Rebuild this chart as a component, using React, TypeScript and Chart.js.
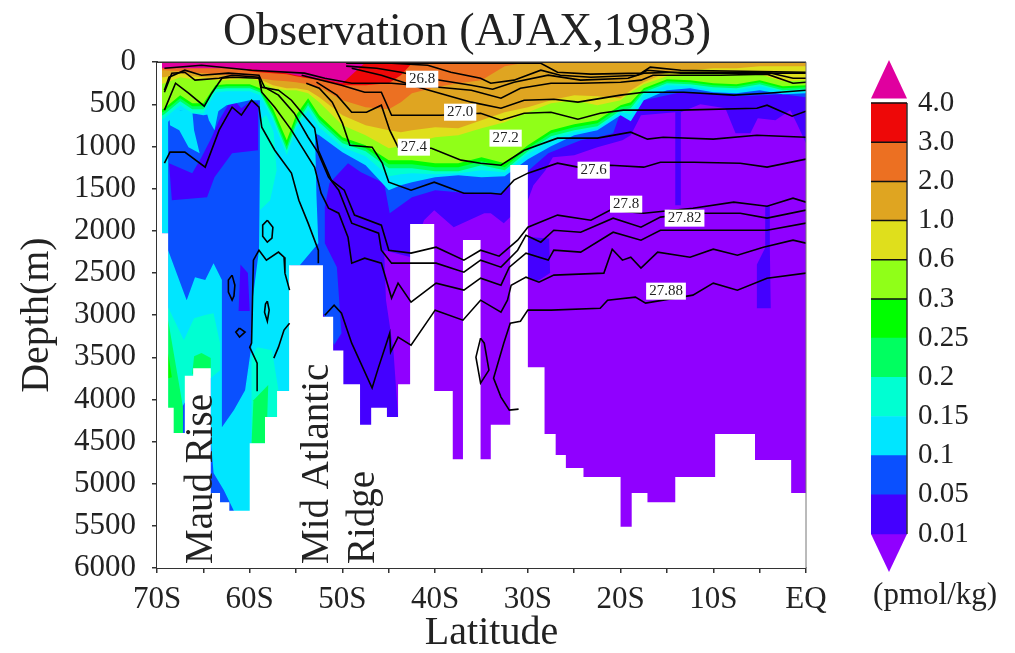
import React, { useEffect, useRef } from "react";
import { Chart, registerables } from "chart.js";
Chart.register(...registerables);

const serif = "'Liberation Serif', 'Times New Roman', serif";
const ink = "#222222";

const titleText = "Observation (AJAX,1983)";
const xTickValues = [-70, -65, -60, -55, -50, -45, -40, -35, -30, -25, -20, -15, -10, -5, 0];
const xTickLabels = ["70S", "", "60S", "", "50S", "", "40S", "", "30S", "", "20S", "", "10S", "", "EQ"];

const colMagenta = "#e0009f";
const colRed = "#ee0808";
const colOrange = "#ec7022";
const colGolden = "#dfa521";
const colYellow = "#dfdf1c";
const colLime = "#90ff18";
const colGreen = "#00ff00";
const colSpring = "#00ff60";
const colTeal = "#00ffd2";
const colCyan = "#00e6ff";
const colBlue = "#0a50ff";
const colIndigo = "#4400ff";
const colViolet = "#9000ff";

// Latitudes shared by the upper-ocean CFC layers
const layerLat = [-70, -69.2, -67.5, -66.2, -65, -63.7, -62.5, -60, -58.9, -57.5, -56, -55, -53.7, -52.5, -50, -47.5, -45, -43.7, -42.5, -40, -37.5, -35, -32.5, -30, -27.5, -25, -22.5, -20, -18.9, -17.5, -15, -12.5, -10, -7.5, -5, -2.5, 0];
// Lower limit (m) of each concentration class
const depthCyan = [747, 747, 569, 605, 629, 605, 510, 451, 451, 806, 1162, 866, 806, 866, 1067, 1222, 1518, 1459, 1423, 1364, 1340, 1364, 1352, 1150, 996, 866, 806, 629, 700, 451, 332, 308, 356, 368, 332, 380, 368];
const depthTeal = [712, 664, 510, 605, 605, 356, 344, 344, 391, 688, 1103, 783, 569, 771, 1008, 1115, 1352, 1328, 1316, 1328, 1316, 1281, 1305, 1091, 925, 830, 783, 593, 617, 391, 273, 285, 332, 332, 285, 344, 332];
const depthSpring = [664, 617, 463, 557, 557, 320, 308, 308, 356, 640, 1044, 735, 510, 712, 961, 1056, 1257, 1257, 1257, 1293, 1293, 1222, 1281, 1056, 878, 806, 759, 569, 546, 356, 249, 261, 297, 308, 261, 332, 320];
const depthGreen = [629, 581, 427, 522, 522, 297, 285, 285, 332, 605, 996, 688, 474, 676, 925, 1020, 1210, 1210, 1210, 1245, 1245, 1174, 1245, 1020, 842, 771, 723, 534, 510, 332, 225, 237, 273, 285, 237, 308, 297];
const depthLime = [593, 546, 391, 486, 486, 273, 261, 261, 308, 546, 925, 629, 427, 629, 890, 984, 1162, 1162, 1162, 1198, 1198, 1127, 1198, 984, 806, 735, 688, 510, 474, 308, 202, 213, 249, 261, 213, 285, 273];
const depthYellow = [273, 249, 178, 202, 202, 213, 213, 190, 225, 308, 332, 332, 368, 474, 747, 866, 1020, 996, 961, 890, 866, 783, 712, 593, 486, 451, 510, 451, 356, 261, 166, 130, 130, 142, 142, 225, 213];
const depthGolden = [178, 178, 130, 166, 178, 190, 190, 178, 202, 273, 308, 308, 332, 415, 629, 747, 806, 830, 806, 771, 783, 688, 593, 534, 451, 391, 403, 427, 332, 237, 119, 95, 71, 71, 47, 47, 47];
const depthOrange = [95, 95, 107, 119, 130, 142, 154, 166, 190, 213, 225, 237, 261, 297, 451, 534, 557, 474, 368, 297, 249, 213, 47, 0, 0, 0, 0, 0, 0, 0, 0, 0, 0, 0, 0, 0, 0];
const depthRed = [0, 0, 0, 0, 0, 0, 0, 107, 119, 130, 142, 166, 190, 213, 273, 273, 249, 154, 12, 0, 0, 0, 0, 0, 0, 0, 0, 0, 0, 0, 0, 0, 0, 0, 0, 0, 0];
const depthMagenta = [71, 71, 71, 71, 71, 71, 71, 83, 95, 107, 130, 154, 178, 190, 249, 0, 0, 0, 0, 0, 0, 0, 0, 0, 0, 0, 0, 0, 0, 0, 0, 0, 0, 0, 0, 0, 0];

// Deep-water regions as [latitude, depth] outlines
const areaViolet = [[-70, 0], [0, 0], [0, 6000], [-70, 6000]];
const areaIndigo = [[-69.2, 0], [0, 0], [0, 960], [-0.9, 747], [-1.7, 569], [-3.3, 688], [-5.2, 664], [-6, 842], [-7.6, 842], [-8.7, 546], [-11.4, 498], [-13.5, 593], [-13.5, 1696], [-14.1, 1696], [-14.1, 593], [-17.8, 629], [-18.9, 866], [-19.8, 925], [-22.5, 1008], [-25, 1103], [-27.3, 1127], [-28.1, 1281], [-29.4, 1459], [-30, 1637], [-32.6, 1909], [-34, 1791], [-34.7, 1791], [-38, 1957], [-40.1, 1755], [-41.2, 1874], [-42.6, 2313], [-45.5, 2230], [-45.3, 2823], [-44.5, 3416], [-44, 4210], [-44.2, 4483], [-44.2, 6000], [-69.2, 6000]];
const areaIndigoPatch = [[-30, 2075], [-27.7, 2090], [-27.6, 2500], [-29, 2600], [-30, 2550]];
const areaIndigoColumn = [[-4.4, 1700], [-3.9, 1700], [-3.9, 2200], [-3.8, 2920], [-5.3, 2920], [-5.3, 2400], [-4.4, 2200]];
const areaBlue = [[-69.2, 0], [0, 0], [0, 415], [-2.5, 380], [-5, 391], [-7.5, 403], [-10, 368], [-13.5, 356], [-17.5, 451], [-20, 593], [-20.8, 842], [-22.5, 890], [-24.3, 925], [-27.8, 1079], [-31.5, 1435], [-32.9, 1554], [-35, 1554], [-37.5, 1542], [-40, 1518], [-42.5, 1601], [-44.9, 1791], [-45.5, 1435], [-48, 1305], [-49.4, 1198], [-50.4, 1316], [-51.4, 1435], [-51.9, 1720], [-51.9, 2147], [-50.6, 2431], [-50.1, 3214], [-50.9, 3356], [-51.9, 3024], [-54.4, 2408], [-59.8, 5432], [-69.2, 5432]];
const areaIndigoCore = [[-63.3, 688], [-61.9, 427], [-60.9, 546], [-59.8, 451], [-59.1, 486], [-59.1, 1044], [-61.9, 1079], [-63.8, 1364], [-64.6, 1601], [-68.4, 1637], [-68.7, 1198], [-66.2, 1316], [-65.2, 1127], [-64.1, 890]];
const areaIndigoStreak = [[-61, 2400], [-60.2, 2500], [-60, 2950], [-61.2, 2950]];
const areaCyanMain = [[-68.8, 2230], [-66.8, 2823], [-65.9, 2550], [-64.8, 2585], [-63.9, 2384], [-63, 2585], [-63, 4329], [-61.7, 4127], [-60.5, 3890], [-59.8, 3356], [-59.7, 2823], [-59, 2230], [-58.9, 1281], [-58.9, 273], [-53, 273], [-53, 629], [-52.8, 1577], [-52.6, 2147], [-54.6, 2408], [-55.6, 2408], [-55.6, 4483], [-59.8, 5432], [-61.7, 5325], [-62.8, 5076], [-63.9, 4874], [-64.2, 4483], [-64.2, 3534], [-68.8, 4364]];
const areaCyanEdge = [[-69.46, 0], [-68.8, 0], [-68.8, 2030], [-69.46, 2030]];
const areaCyanPatchA = [[-68.7, 569], [-66.2, 569], [-66, 806], [-65.4, 1079], [-66.6, 1008], [-67.6, 806], [-68.6, 747]];
const areaCyanPatchB = [[-64.8, 534], [-63.3, 534], [-63.8, 806], [-64.4, 688]];
const areaTealWest = [[-68.8, 2906], [-67.1, 3297], [-66, 3036], [-64.8, 3000], [-63.9, 2977], [-63.2, 3333], [-63.2, 3653], [-68.4, 4127], [-68.8, 4127]];
const areaTealMid = [[-59.8, 3499], [-59.2, 3380], [-57.6, 3416], [-56.9, 3890], [-56.9, 4210], [-58.2, 4210], [-58.2, 4519], [-59.8, 4519]];
const areaTealUpper = [[-58.9, 688], [-57.6, 569], [-57.1, 1281], [-57.8, 1637], [-58.9, 1755]];
const areaSpringWest = [[-68.8, 3060], [-67.7, 3771], [-67.2, 4092], [-67.2, 4400], [-68.2, 4400], [-68.8, 4104]];
const areaSpringRise = [[-66.2, 3700], [-66, 3487], [-65.2, 3451], [-64.2, 3510], [-64.2, 3630]];
const areaSpringMid = [[-59.6, 4009], [-58, 3830], [-58.2, 4519], [-59.8, 4519]];
const areaGreenWest = [[-68.8, 3451], [-68.4, 3736], [-68.8, 3748]];

// Sea floor: each depth holds from its latitude to the next one
const floorLat = [-70, -69.46, -68.8, -68.2, -67, -66.1, -64.2, -63.2, -62.2, -60, -58.35, -57.05, -55.75, -52.1, -51, -49.9, -48.1, -46.9, -45.2, -44, -42.7, -40.1, -38.1, -37, -35.1, -34, -31.9, -30, -28.2, -27, -25.9, -24, -20, -18.8, -17.1, -14.1, -9.8, -5.5, -1.6, 0];
const floorDepth = [0, 2030, 4100, 4400, 3720, 3630, 5110, 5220, 5320, 4520, 4210, 3900, 2410, 3020, 3420, 3820, 4300, 4100, 4210, 3820, 1920, 3900, 4710, 2110, 4710, 4300, 1220, 3620, 4410, 4660, 4815, 4920, 5510, 5110, 5220, 4920, 4410, 4720, 5110, 5110];

// Isopycnals
const rhoALat = [-49.6, -40.4, -31.5, -28.6, -26.8, -23.2, -17.8, -16.8, -13.5, 0];
const rhoADepth = [12, 12, 12, 12, 119, 142, 130, 59, 95, 119];
const rhoBLat = [-44.7, -40.8, -38.3, -35.1, -34, -31.5, -28.6, -26.5, -23.2, -18.2, -17.1, -13.5, 0];
const rhoBDepth = [12, 36, 119, 190, 249, 213, 95, 154, 178, 154, 95, 130, 130];
const rhoCLat = [-49.6, -46.3, -43.7, -40.8, -36.1, -33.8, -31.5, -27.8, -24.3, -19.2, -17.5, -13.5, -7.8, -4.2, -1.4, 0];
const rhoCDepth = [47, 71, 119, 190, 273, 320, 237, 154, 213, 190, 130, 119, 119, 119, 190, 190];
const rho268Lat = [-69.2, -65.2, -59.8, -54.1, -51.9, -49, -44.7, -39.6, -36.1, -32.9, -30.8, -27.5, -24.3, -20, -17.8, -16.5, -13.5, -9.2, -4.2, -1.4, 0];
const rho268Depth = [71, 36, 95, 130, 190, 249, 249, 297, 332, 427, 308, 249, 249, 237, 213, 154, 154, 154, 142, 249, 237];
const rhoELat = [-49, -45.8, -41.8, -36.1, -32.9, -30.4, -27.2, -24.6, -20, -17.5, -13.2, -7.8, -4.2, 0];
const rhoEDepth = [71, 154, 297, 474, 546, 451, 439, 474, 391, 356, 356, 391, 368, 332];
const rho270Lat = [-54.4, -50.1, -47.6, -45.8, -44.7, -39.4, -35.1, -32.9, -30.4, -27.5, -24.6, -22.2, -19.7, -13.5, -5.3, -4.2, -1.5, 0];
const rho270Depth = [154, 273, 356, 356, 629, 629, 605, 688, 605, 593, 676, 605, 569, 569, 546, 510, 640, 581];
const rho274Lat = [-52.8, -50.6, -49, -47.4, -45.8, -44.9, -44, -40.4, -37.2, -35.1, -32.9, -30.4, -26.8, -22.5, -18.9, -17.1, -15.4, -10, -5.3, 0];
const rho274Depth = [237, 391, 593, 593, 510, 806, 1008, 1020, 1162, 1198, 1222, 1044, 901, 901, 830, 913, 890, 913, 866, 890];
const rho276Lat = [-53.9, -52.5, -51.1, -50, -49.2, -46.8, -45.7, -45, -42.6, -40.1, -36.9, -34, -32.9, -31.5, -30, -26.8, -24.6, -21.1, -17.5, -15.7, -12.1, -7.1, -4.2, 0];
const rho276Depth = [249, 308, 474, 723, 985, 1008, 1198, 1423, 1518, 1423, 1554, 1554, 1566, 1399, 1316, 1198, 1245, 1222, 1245, 1186, 1186, 1198, 1245, 1150];
const rho278Lat = [-69.2, -68.4, -67, -65.9, -63.3, -61.9, -59, -58.7, -56.9, -55.5, -53, -52.6, -51.2, -49.8, -48.7, -45.8, -45, -42.6, -39.9, -36.9, -35.1, -33.1, -31.1, -30, -26.8, -23.2, -21.1, -17.5, -12.2, -7.8, -4.2, -1.4, 0];
const rho278Depth = [356, 130, 119, 213, 190, 154, 178, 297, 332, 451, 783, 1044, 1399, 1518, 1814, 1933, 2230, 2265, 2194, 2348, 2230, 2301, 2111, 1957, 1814, 1874, 1755, 1791, 1732, 1660, 1708, 1613, 1660];
const rho2782Lat = [-69.2, -68.7, -67, -65.2, -62.3, -59, -58.4, -56.9, -55.2, -53.7, -52.6, -51.5, -50.4, -49, -46.1, -45.8, -44.7, -39.9, -36.9, -35.1, -32.9, -31.1, -30.2, -28.6, -27.2, -24.3, -20.8, -17.8, -15.7, -12.2, -7.1, -4.2, 0];
const rho2782Depth = [332, 178, 95, 154, 130, 154, 297, 391, 605, 890, 1079, 1364, 1518, 1909, 2028, 2230, 2384, 2384, 2491, 2348, 2431, 2230, 2052, 2135, 1993, 2017, 1850, 1957, 1838, 1791, 1791, 1850, 1755];
const rho2784Lat = [-69.2, -68, -66.6, -64.9, -64.1, -63, -61.9, -59, -58.7, -57.3, -55.5, -53, -52.3, -51.5, -50.4, -49.4, -49, -47.6, -45.8, -44.7, -44, -42.6, -39.9, -36.9, -35.1, -32.9, -32, -30.2, -27.8, -27.2, -24.3, -20.8, -17.8, -15.7, -10, -4.2, 0];
const rho2784Depth = [569, 249, 368, 522, 368, 190, 178, 190, 356, 534, 806, 1246, 1554, 1732, 1791, 2076, 2384, 2325, 2384, 2798, 2621, 2846, 2621, 2704, 2562, 2645, 2431, 2265, 2348, 2230, 2253, 2017, 2111, 1993, 1993, 1993, 1909];
const rhoWestLat = [-69.2, -68.6, -67, -64.8, -63.3, -61.9, -60.9, -59.8, -59, -58.7, -57.3, -55.5, -54.7, -53.7, -52.6, -52.6];
const rhoWestDepth = [1198, 1067, 1067, 1245, 806, 534, 628, 451, 534, 771, 1044, 1316, 1637, 1909, 2230, 2384];
const rho2786Lat = [-51.9, -50.9, -50.1, -49, -46.8, -46.1, -44.9, -44.8, -44, -42.6, -40, -37, -35.1, -32.9, -32.2, -31.8, -30.2, -28.8, -27.2, -21.8, -20.9, -19.8, -18.9, -17.8, -16, -12.5, -10, -7.4, -4.6, -1.4, 0];
const rho2786Depth = [3001, 2882, 2977, 3333, 3866, 3617, 3214, 3439, 3262, 3356, 2941, 3060, 2823, 2965, 2823, 2645, 2550, 2609, 2526, 2502, 2218, 2348, 2313, 2443, 2253, 2313, 2218, 2289, 2194, 2111, 2147];
const rho2788Lat = [-31, -32, -32.9, -33.7, -32.6, -31.9, -30.8, -30, -27.5, -22.2, -21.4, -18.4, -17.3, -12.2, -10, -7.4, -4.2, 0];
const rho2788Depth = [4115, 4127, 3973, 3748, 3333, 3096, 3072, 2941, 2941, 2918, 2823, 2787, 2858, 2763, 2621, 2704, 2562, 2502];
const rhoDeepLat = [-59.2, -59.2, -60, -59.8, -59.7, -59.6, -59, -58.2, -56.9, -56.3, -56.2, -55.7];
const rhoDeepDepth = [3902, 3570, 3380, 3333, 2823, 2348, 2230, 2348, 2253, 2313, 2502, 2704];
const rhoShortLat = [-55.7, -56.3, -56.9, -57.4];
const rhoShortDepth = [3096, 3178, 3380, 3511];
const loopALat = [-58.1, -57.5, -57.6, -58.1, -58.6, -58.6, -58.1];
const loopADepth = [1874, 1957, 2087, 2135, 2064, 1933, 1874];
const loopBLat = [-61.9, -61.6, -61.7, -61.9, -62.3, -62.3, -61.9];
const loopBDepth = [2526, 2645, 2775, 2823, 2728, 2585, 2526];
const loopCLat = [-58.1, -57.9, -58.1, -58.4, -58.3, -58.1];
const loopCDepth = [2834, 2941, 3072, 2965, 2870, 2834];
const loopDLat = [-61.1, -60.5, -61.1, -61.5, -61.1];
const loopDDepth = [3155, 3202, 3261, 3202, 3155];
const loopELat = [-35.1, -35.6, -35.1, -34.2, -34.7, -35.1];
const loopEDepth = [3273, 3499, 3807, 3653, 3333, 3273];

const contourLabelText = ["26.8", "27.0", "27.2", "27.4", "27.6", "27.8", "27.82", "27.88"];
const contourLabelLat = [-41.4, -37.3, -32.4, -42.3, -22.9, -19.4, -13.1, -15.1];
const contourLabelDepth = [202, 593, 901, 1008, 1281, 1684, 1850, 2716];

const featureText = ["Maud Rise", "Mid Atlantic", "Ridge"];
const featureLat = [-64.1, -51.6, -46.6];
const featureDepth = [5953, 5953, 5953];

// Colour bar
const barLabels = ["0.01", "0.05", "0.1", "0.15", "0.2", "0.25", "0.3", "0.6", "1.0", "2.0", "3.0", "4.0"];
const barColors = [colIndigo, colBlue, colCyan, colTeal, colSpring, colGreen, colLime, colYellow, colGolden, colOrange, colRed];
const barBlackLevels = [6, 7, 8, 9, 10, 11];

const pts = (lat: number[], depth: number[]) => lat.map((x, i) => ({ x, y: depth[i] }));
const poly = (a: number[][]) => a.map(([x, y]) => ({ x, y }));

function shape(a: number[][], color: string) {
  return { type: "line", data: poly(a), fill: "shape", backgroundColor: color, borderWidth: 0, pointRadius: 0, tension: 0 };
}
function layer(depth: number[], color: string) {
  return { type: "line", data: pts(layerLat, depth), fill: { value: 0 }, backgroundColor: color, borderWidth: 0, pointRadius: 0, tension: 0 };
}
function rho(lat: number[], depth: number[]) {
  return { type: "line", data: pts(lat, depth), fill: false, borderColor: "#000000", borderWidth: 1.6, pointRadius: 0, tension: 0 };
}

const annotations = {
  id: "annotations",
  afterDraw(chart: any) {
    const { ctx, scales, chartArea: a } = chart;
    ctx.save();
    ctx.strokeStyle = "#333333";
    ctx.lineWidth = 1.5;
    ctx.beginPath();
    ctx.moveTo(a.left, a.top);
    ctx.lineTo(a.right, a.top);
    ctx.stroke();
    ctx.strokeStyle = "#777777";
    ctx.lineWidth = 1;
    ctx.beginPath();
    ctx.moveTo(a.right, a.top);
    ctx.lineTo(a.right, a.bottom);
    ctx.stroke();

    ctx.font = `15px ${serif}`;
    ctx.textAlign = "center";
    ctx.textBaseline = "middle";
    contourLabelText.forEach((t, i) => {
      const x = scales.x.getPixelForValue(contourLabelLat[i]);
      const y = scales.y.getPixelForValue(contourLabelDepth[i]);
      const w = ctx.measureText(t).width + 6;
      ctx.fillStyle = "#ffffff";
      ctx.fillRect(x - w / 2, y - 8.5, w, 17);
      ctx.fillStyle = ink;
      ctx.fillText(t, x, y);
    });

    ctx.font = `39px ${serif}`;
    ctx.textAlign = "left";
    ctx.textBaseline = "alphabetic";
    featureText.forEach((t, i) => {
      ctx.save();
      ctx.translate(scales.x.getPixelForValue(featureLat[i]), scales.y.getPixelForValue(featureDepth[i]));
      ctx.rotate(-Math.PI / 2);
      ctx.fillStyle = ink;
      ctx.fillText(t, 0, 0);
      ctx.restore();
    });
    ctx.restore();
  },
};

const unitLabel = {
  id: "unitLabel",
  afterDraw(chart: any) {
    const { ctx, scales } = chart;
    ctx.save();
    ctx.font = `31px ${serif}`;
    ctx.fillStyle = ink;
    ctx.textAlign = "center";
    ctx.textBaseline = "middle";
    ctx.fillText("(pmol/kg)", scales.x.getPixelForValue(1.78), scales.y.getPixelForValue(-1.58));
    ctx.restore();
  },
};

export default function App() {
  const mainRef = useRef<HTMLCanvasElement>(null);
  const barRef = useRef<HTMLCanvasElement>(null);

  useEffect(() => {
    document.body.style.margin = "0";
    const paint: any[] = [
      shape(areaViolet, colViolet),
      shape(areaIndigo, colIndigo),
      shape(areaIndigoPatch, colIndigo),
      shape(areaIndigoColumn, colIndigo),
      shape(areaBlue, colBlue),
      shape(areaIndigoCore, colIndigo),
      shape(areaIndigoStreak, colIndigo),
      shape(areaCyanMain, colCyan),
      shape(areaCyanEdge, colCyan),
      shape(areaCyanPatchA, colCyan),
      shape(areaCyanPatchB, colCyan),
      shape(areaTealWest, colTeal),
      shape(areaTealMid, colTeal),
      shape(areaTealUpper, colTeal),
      shape(areaSpringWest, colSpring),
      shape(areaSpringRise, colSpring),
      shape(areaSpringMid, colSpring),
      shape(areaGreenWest, colGreen),
      layer(depthCyan, colCyan),
      layer(depthTeal, colTeal),
      layer(depthSpring, colSpring),
      layer(depthGreen, colGreen),
      layer(depthLime, colLime),
      layer(depthYellow, colYellow),
      layer(depthGolden, colGolden),
      layer(depthOrange, colOrange),
      layer(depthRed, colRed),
      layer(depthMagenta, colMagenta),
      { type: "line", data: pts(floorLat, floorDepth), stepped: true, fill: { value: 6000 }, backgroundColor: "#ffffff", borderWidth: 0, pointRadius: 0 },
      rho(rhoALat, rhoADepth),
      rho(rhoBLat, rhoBDepth),
      rho(rhoCLat, rhoCDepth),
      rho(rho268Lat, rho268Depth),
      rho(rhoELat, rhoEDepth),
      rho(rho270Lat, rho270Depth),
      rho(rho274Lat, rho274Depth),
      rho(rho276Lat, rho276Depth),
      rho(rho278Lat, rho278Depth),
      rho(rho2782Lat, rho2782Depth),
      rho(rho2784Lat, rho2784Depth),
      rho(rhoWestLat, rhoWestDepth),
      rho(rho2786Lat, rho2786Depth),
      rho(rho2788Lat, rho2788Depth),
      rho(rhoDeepLat, rhoDeepDepth),
      rho(rhoShortLat, rhoShortDepth),
      rho(loopALat, loopADepth),
      rho(loopBLat, loopBDepth),
      rho(loopCLat, loopCDepth),
      rho(loopDLat, loopDDepth),
      rho(loopELat, loopEDepth),
    ];
    const datasets = paint.map((d, i) => ({ ...d, order: paint.length - i }));

    const main = new Chart(mainRef.current as any, {
      type: "line",
      data: { datasets },
      plugins: [annotations],
      options: {
        animation: false,
        responsive: false,
        layout: { padding: 0 },
        plugins: {
          legend: { display: false },
          tooltip: { enabled: false },
          title: {
            display: true,
            text: titleText,
            color: ink,
            font: { family: serif, size: 46, weight: "normal", lineHeight: 1.2 },
            padding: { top: 5, bottom: 2 },
          },
        },
        scales: {
          x: {
            type: "linear",
            min: -70,
            max: 0,
            afterFit: (s: any) => { s.height = 85; },
            afterBuildTicks: (s: any) => { s.ticks = xTickValues.map((value) => ({ value })); },
            ticks: {
              color: ink,
              font: { family: serif, size: 31 },
              autoSkip: false,
              maxRotation: 0,
              padding: 8,
              callback: (v: any) => xTickLabels[xTickValues.indexOf(Number(v))] ?? "",
            },
            grid: { drawOnChartArea: false, drawTicks: true, tickLength: 5, color: "#333333", lineWidth: 1.5 },
            border: { display: true, color: "#333333", width: 2 },
            title: { display: true, text: "  Latitude", color: ink, font: { family: serif, size: 40, lineHeight: 1 }, padding: 0 },
          },
          y: {
            type: "linear",
            reverse: true,
            min: 0,
            max: 6000,
            afterFit: (s: any) => { s.width = 157; },
            ticks: { stepSize: 500, color: ink, font: { family: serif, size: 31 }, padding: 16, autoSkip: false, callback: (v: any) => String(v) },
            grid: { drawOnChartArea: false, drawTicks: true, tickLength: 5, color: "#333333", lineWidth: 1.5 },
            border: { display: true, color: "#333333", width: 2 },
            title: { display: true, text: "Depth(m)", color: ink, font: { family: serif, size: 40 }, padding: { top: 13, bottom: 0 } },
          },
          spare: {
            type: "linear",
            position: "right",
            display: true,
            afterFit: (s: any) => { s.width = 128; },
            ticks: { display: false },
            grid: { display: false },
            border: { display: false },
          },
        },
      } as any,
    });

    const barDatasets: any[] = [
      ...barBlackLevels.map((level) => ({
        type: "line",
        data: [{ x: 0, y: level }, { x: 1, y: level }],
        borderColor: "#111111",
        borderWidth: 1.5,
        pointRadius: 0,
        fill: false,
        order: 0,
      })),
      { type: "line", data: [{ x: 1, y: 0 }, { x: 1, y: 11 }], borderColor: "#333333", borderWidth: 1.5, pointRadius: 0, fill: false, clip: false, order: 0 },
      ...barColors.map((c, i) => ({
        type: "bar",
        data: [{ x: 0.5, y: [i, i + 1] }],
        backgroundColor: c,
        barThickness: 36,
        borderWidth: 0,
        grouped: false,
        order: 1,
      })),
      { type: "line", data: [{ x: 0, y: 11.12 }, { x: 0.5, y: 12.1 }, { x: 1, y: 11.12 }], fill: "shape", backgroundColor: colMagenta, borderWidth: 0, pointRadius: 0, clip: false, order: 2 },
      { type: "line", data: [{ x: 0, y: 0 }, { x: 0.5, y: -0.97 }, { x: 1, y: 0 }], fill: "shape", backgroundColor: colViolet, borderWidth: 0, pointRadius: 0, clip: false, order: 2 },
    ];

    const bar = new Chart(barRef.current as any, {
      type: "bar",
      data: { datasets: barDatasets },
      plugins: [unitLabel],
      options: {
        animation: false,
        responsive: false,
        layout: { padding: { left: 11, top: 60, bottom: 81, right: 0 } },
        plugins: { legend: { display: false }, tooltip: { enabled: false } },
        scales: {
          x: { type: "linear", min: 0, max: 1, offset: false, display: false },
          y: {
            type: "linear",
            position: "right",
            min: -0.97,
            max: 12.1,
            afterFit: (s: any) => { s.width = 108; },
            afterBuildTicks: (s: any) => { s.ticks = barLabels.map((_, i) => ({ value: i })); },
            ticks: {
              color: ink,
              font: { family: serif, size: 29 },
              padding: 3,
              autoSkip: false,
              callback: (v: any) => barLabels[Number(v)] ?? "",
            },
            grid: { display: false, drawOnChartArea: false },
            border: { display: false },
          },
        },
      } as any,
    });

    return () => {
      main.destroy();
      bar.destroy();
    };
  }, []);

  return (
    <div style={{ position: "relative", width: 1015, height: 653, background: "#ffffff", overflow: "hidden" }}>
      <canvas ref={mainRef} width={934} height={653} style={{ position: "absolute", left: 0, top: 0 }} />
      <canvas ref={barRef} width={155} height={653} style={{ position: "absolute", left: 860, top: 0 }} />
    </div>
  );
}
